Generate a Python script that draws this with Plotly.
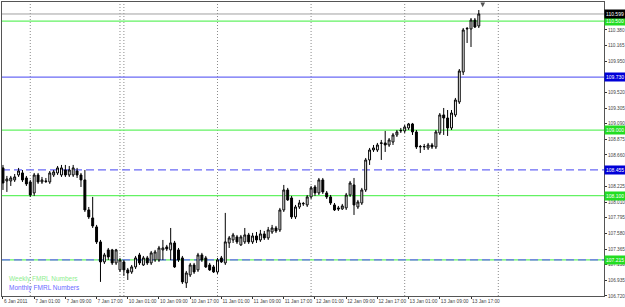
import plotly.graph_objects as go

# ---- data (USDJPY-like H1 candles) ----
opens = [108.481,108.302,108.302,108.316,108.384,108.412,108.343,108.288,108.137,108.384,
         108.288,108.302,108.288,108.384,108.412,108.384,108.453,108.384,108.384,108.439,
         108.384,108.316,107.903,107.793,107.669,107.463,107.188,107.353,107.353,107.174,
         107.078,107.188,107.078,107.050,107.119,107.284,107.146,107.243,107.174,107.215,
         107.215,107.353,107.394,107.353,107.449,107.353,107.243,106.899,107.009,107.146,
         107.078,107.284,107.243,107.146,107.119,107.050,107.243,107.174,107.449,107.490,
         107.532,107.422,107.463,107.559,107.463,107.545,107.490,107.573,107.518,107.600,
         107.655,107.628,107.903,108.178,108.068,107.807,107.944,107.986,107.972,108.082,
         108.219,108.137,108.316,108.137,108.082,107.972,107.931,107.917,107.931,108.109,
         108.247,107.944,107.999,108.178,108.591,108.728,108.728,108.818,108.825,108.797,
         108.838,108.935,108.990,108.990,109.031,109.086,108.976,108.770,108.770,108.756,
         108.797,108.770,108.962,109.210,109.168,109.031,109.210,109.389,109.801,110.393,
         110.393,110.516,110.434]
highs = [108.522,108.371,108.371,108.398,108.481,108.453,108.371,108.316,108.412,108.412,
         108.357,108.343,108.439,108.453,108.508,108.522,108.522,108.508,108.522,108.481,
         108.412,108.453,107.944,108.082,107.697,107.490,107.312,107.380,107.367,107.367,
         107.243,107.215,107.105,107.146,107.270,107.312,107.270,107.270,107.339,107.353,
         107.408,107.490,107.422,107.655,107.477,107.380,107.270,107.064,107.174,107.174,
         107.312,107.312,107.270,107.174,107.146,107.243,107.270,107.862,107.545,107.587,
         107.559,107.559,107.655,107.587,107.587,107.600,107.628,107.614,107.669,107.697,
         107.683,107.931,108.247,108.206,108.096,107.972,108.041,108.013,108.109,108.233,
         108.247,108.343,108.343,108.164,108.109,107.999,107.958,107.986,108.137,108.302,
         108.343,108.041,108.206,108.618,108.756,108.797,108.825,108.866,108.990,108.893,
         108.962,109.003,109.031,109.072,109.100,109.100,109.003,108.797,108.811,108.825,
         108.825,109.003,109.237,109.306,109.278,109.278,109.444,109.842,110.406,110.420,
         110.544,110.544,110.654]
lows = [108.178,108.151,108.233,108.288,108.357,108.288,108.233,108.082,108.096,108.261,
        108.261,108.274,108.261,108.357,108.384,108.357,108.357,108.357,108.357,108.343,
        108.219,107.875,107.779,107.655,107.435,106.913,107.160,107.215,107.146,107.146,
        107.050,106.995,106.940,107.023,107.091,107.146,107.133,107.146,107.146,107.188,
        107.188,107.215,107.339,107.215,107.105,107.188,106.885,106.830,106.981,107.023,
        107.050,107.188,107.105,107.064,107.036,107.023,107.174,107.146,107.380,107.449,
        107.435,107.408,107.435,107.435,107.435,107.449,107.463,107.490,107.490,107.573,
        107.587,107.600,107.875,108.027,107.779,107.779,107.917,107.958,107.944,108.054,
        108.096,108.109,108.123,108.054,107.972,107.889,107.889,107.903,107.903,108.082,
        107.834,107.917,107.972,108.151,108.522,108.701,108.701,108.591,108.701,108.770,
        108.797,108.907,108.962,108.962,109.003,108.935,108.742,108.687,108.728,108.728,
        108.742,108.742,108.935,108.935,108.921,109.003,109.182,109.361,109.760,110.200,
        110.145,110.406,110.406]
closes = [108.274,108.329,108.343,108.357,108.439,108.316,108.261,108.109,108.384,108.288,
          108.316,108.295,108.412,108.426,108.481,108.481,108.384,108.453,108.481,108.384,
          108.316,107.903,107.807,107.683,107.463,107.188,107.284,107.257,107.174,107.353,
          107.215,107.078,107.036,107.119,107.243,107.174,107.243,107.174,107.312,107.325,
          107.380,107.380,107.367,107.449,107.119,107.215,106.913,107.036,107.146,107.050,
          107.284,107.215,107.119,107.078,107.050,107.215,107.188,107.463,107.518,107.559,
          107.463,107.532,107.559,107.463,107.545,107.490,107.573,107.518,107.628,107.655,
          107.614,107.903,108.178,108.041,107.807,107.944,107.999,107.992,108.082,108.206,
          108.137,108.316,108.151,108.082,107.999,107.903,107.917,107.958,108.109,108.274,
          107.972,108.013,108.178,108.591,108.728,108.756,108.797,108.825,108.797,108.866,
          108.935,108.976,108.997,109.045,109.086,108.976,108.770,108.776,108.776,108.797,
          108.770,108.976,109.210,109.168,109.031,109.237,109.416,109.815,110.379,110.400,
          110.516,110.420,110.599]

time_tick_index = [0, 8, 16, 24, 32, 40, 48, 56, 64, 72, 80, 88, 96, 104, 112, 120]
time_tick_labels = ["6 Jan 2011", "7 Jan 01:00", "7 Jan 09:00", "7 Jan 17:00",
                    "10 Jan 01:00", "10 Jan 09:00", "10 Jan 17:00", "11 Jan 01:00",
                    "11 Jan 09:00", "11 Jan 17:00", "12 Jan 01:00", "12 Jan 09:00",
                    "12 Jan 17:00", "13 Jan 01:00", "13 Jan 09:00", "13 Jan 17:00"]
separator_index = [7, 30, 31, 55, 79, 103, 127]

# visible price scale labels (those hidden behind price boxes in the reference are left out)
price_ticks = [106.720, 106.935, 107.150, 107.365, 107.580, 107.795, 108.010, 108.225,
               108.660, 108.875, 109.090, 109.305, 109.520, 109.950,
               110.165, 110.380]

weekly_levels = [110.500, 109.000, 108.100, 107.215]
monthly_levels = [109.730, 108.455, 107.215]
monthly_dash = ["solid", "8px,4px", "8px,4px"]
bid_price = closes[-1]

# ---- figure ----
bars = list(range(len(opens)))
GREEN = "#63f263"
BLUE = "#6a6af5"
FONT = "Liberation Sans"

fig = go.Figure()
fig.add_trace(go.Candlestick(
    x=bars, open=opens, high=highs, low=lows, close=closes,
    increasing=dict(line=dict(color="black", width=1), fillcolor="white"),
    decreasing=dict(line=dict(color="black", width=1), fillcolor="black"),
    whiskerwidth=0, showlegend=False, hoverinfo="skip"))

shapes = []
for s in separator_index:
    shapes.append(dict(type="line", xref="x", yref="paper", x0=s, x1=s, y0=0, y1=1,
                       line=dict(color="#8a8a8a", width=1, dash="1px,2px"), layer="below"))
shapes.append(dict(type="line", xref="paper", yref="y", x0=0, x1=1, y0=bid_price, y1=bid_price,
                   line=dict(color="#a0a0a0", width=1), layer="below"))
for lv in weekly_levels:
    shapes.append(dict(type="line", xref="paper", yref="y", x0=0, x1=1, y0=lv, y1=lv,
                       line=dict(color=GREEN, width=1.3), layer="below"))
for lv, ds in zip(monthly_levels, monthly_dash):
    shapes.append(dict(type="line", xref="paper", yref="y", x0=0, x1=1, y0=lv, y1=lv,
                       line=dict(color=BLUE, width=1.3, dash=ds), layer="below"))
# chart shift marker
shapes.append(dict(type="path", xref="x", yref="paper",
                   path="M 122.4 0.998 L 123.6 0.998 L 123 0.982 Z",
                   fillcolor="#555555", line=dict(width=0)))

annotations = []
def price_box(v, bg):
    annotations.append(dict(xref="paper", yref="y", x=1, y=v, xanchor="left", yanchor="middle",
                            text=f"{v:.3f}", showarrow=False, bgcolor=bg, borderpad=1,
                            font=dict(family=FONT, size=5, color="white")))
for lv in monthly_levels[:2]:
    price_box(lv, "#0000d8")
for lv in weekly_levels:
    price_box(lv, "#22dd22")
price_box(bid_price, "#000000")

annotations.append(dict(xref="paper", yref="paper", x=0.009, y=0.058, xanchor="left", yanchor="middle",
                        text="Weekly FMRL Numbers", showarrow=False,
                        font=dict(family=FONT, size=6.5, color="#8fee8f")))
annotations.append(dict(xref="paper", yref="paper", x=0.009, y=0.027, xanchor="left", yanchor="middle",
                        text="Monthly FMRL Numbers", showarrow=False,
                        font=dict(family=FONT, size=6.5, color="#6b6bff")))

fig.update_layout(
    width=625, height=307, autosize=False,
    margin=dict(l=2, r=21, t=2, b=11),
    paper_bgcolor="white", plot_bgcolor="white",
    shapes=shapes, annotations=annotations,
    xaxis=dict(range=[-0.25, 154.1], rangeslider=dict(visible=False), showgrid=False, zeroline=False,
               tickmode="array", tickvals=time_tick_index, ticktext=time_tick_labels,
               ticks="outside", ticklen=2, tickcolor="#333", ticklabelposition="outside right",
               tickangle=0, automargin=False,
               tickfont=dict(family=FONT, size=4.8, color="#444"),
               showline=True, linecolor="#555", linewidth=1, mirror=True),
    yaxis=dict(range=[106.719, 110.764], side="right", showgrid=False, zeroline=False,
               tickmode="array", tickvals=price_ticks, ticktext=[f"{v:.3f}" for v in price_ticks],
               ticks="outside", ticklen=2, tickcolor="#333", automargin=False,
               tickfont=dict(family=FONT, size=4.7, color="#444"),
               showline=True, linecolor="#555", linewidth=1, mirror=True),
)

fig.write_html("out.html")
